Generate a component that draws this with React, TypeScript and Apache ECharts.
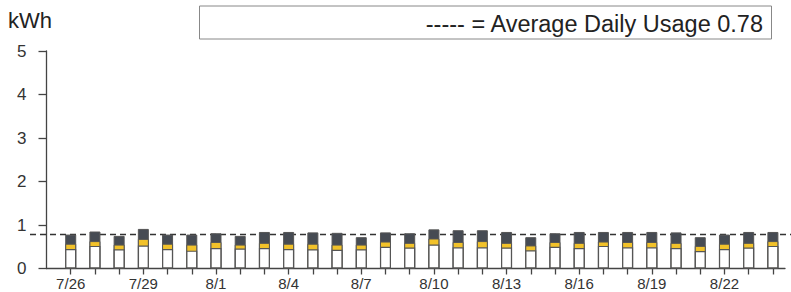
import React, { useEffect, useRef } from "react";
import * as echarts from "echarts";

const days = ["7/26","7/27","7/28","7/29","7/30","7/31","8/1","8/2","8/3","8/4","8/5","8/6","8/7","8/8","8/9","8/10","8/11","8/12","8/13","8/14","8/15","8/16","8/17","8/18","8/19","8/20","8/21","8/22","8/23","8/24"];
const shownLabels = ["7/26","7/29","8/1","8/4","8/7","8/10","8/13","8/16","8/19","8/22"];
const baseUsage = [0.45,0.52,0.44,0.53,0.45,0.41,0.47,0.46,0.47,0.45,0.44,0.43,0.44,0.50,0.48,0.55,0.49,0.49,0.48,0.42,0.50,0.47,0.52,0.49,0.49,0.47,0.40,0.45,0.48,0.52];
const midUsage = [0.12,0.11,0.11,0.15,0.12,0.14,0.14,0.09,0.12,0.12,0.13,0.12,0.11,0.12,0.11,0.14,0.12,0.14,0.11,0.11,0.11,0.12,0.10,0.12,0.12,0.12,0.12,0.12,0.11,0.11];
const peakUsage = [0.21,0.22,0.20,0.23,0.21,0.23,0.20,0.20,0.25,0.27,0.26,0.27,0.17,0.21,0.22,0.21,0.27,0.25,0.25,0.19,0.20,0.25,0.22,0.23,0.23,0.24,0.20,0.21,0.25,0.21];
const yTicks = [0, 1, 2, 3, 4, 5];
const averageUsage = 0.78;

export default function App() {
  const ref = useRef<HTMLDivElement>(null);
  useEffect(() => {
    if (!ref.current) return;
    const chart = echarts.init(ref.current, undefined, { renderer: "svg" });
    const font = "'Liberation Sans', Arial, sans-serif";
    const midTop = baseUsage.map((v, i) => v + midUsage[i]);
    const total = midTop.map((v, i) => v + peakUsage[i]);
    const mk = (arr: number[]) => arr.map((v, i) => [i + 1, +v.toFixed(3)]);
    const common = { type: "bar", barWidth: 11, barGap: "-100%" };
    chart.setOption({
      animation: false,
      backgroundColor: "#ffffff",
      grid: { left: 46.5, right: 6, top: 51, bottom: 23.5 },
      xAxis: {
        type: "value",
        min: 0,
        max: 30.5,
        interval: 1,
        splitLine: { show: false },
        axisLine: { show: true, lineStyle: { color: "#444", width: 1.3 } },
        axisTick: { show: true, length: 6, lineStyle: { color: "#444", width: 1.3 } },
        axisLabel: {
          show: true,
          showMaxLabel: false,
          showMinLabel: false,
          margin: 7,
          fontFamily: font,
          fontSize: 15,
          color: "#333",
          formatter: (v: number) => {
            const d = days[Math.round(v) - 1];
            return d && shownLabels.includes(d) ? d : "";
          },
        },
      },
      yAxis: {
        type: "value",
        min: 0,
        max: 5,
        interval: 1,
        splitLine: { show: false },
        axisLine: { show: true, lineStyle: { color: "#444", width: 1.3 } },
        axisTick: { show: true, length: 8, lineStyle: { color: "#444", width: 1.3 } },
        axisLabel: {
          margin: 20,
          fontFamily: font,
          fontSize: 17,
          color: "#333",
          formatter: (v: number) => (yTicks.includes(v) ? String(v) : ""),
        },
      },
      series: [
        { ...common, name: "peak", z: 3, data: mk(total), itemStyle: { color: "#464b53", borderColor: "#555", borderWidth: 1 } },
        { ...common, name: "mid", z: 4, data: mk(midTop), itemStyle: { color: "#f2c22a", borderColor: "#555", borderWidth: 1 } },
        { ...common, name: "base", z: 5, data: mk(baseUsage), itemStyle: { color: "#ffffff", borderColor: "#555", borderWidth: 1.2 } },
      ],
      graphic: [
        { type: "text", id: "kwh", left: 8, top: 9, style: { text: "kWh", fontFamily: font, fontSize: 22, fill: "#222" } },
        { type: "rect", id: "box", shape: { x: 199.5, y: 6, width: 572, height: 33 }, style: { fill: "#fff", stroke: "#888", lineWidth: 1 } },
        { type: "text", id: "legtext", x: 763, y: 24, style: { text: "----- = Average Daily Usage 0.78", fontFamily: font, fontSize: 23.5, fill: "#222", align: "right", verticalAlign: "middle" } },
      ],
    });
    const py = chart.convertToPixel({ yAxisIndex: 0 }, averageUsage) as number;
    chart.setOption({
      graphic: [
        { type: "line", id: "avg", z: 1, shape: { x1: 30, y1: py, x2: 791, y2: py }, style: { stroke: "#333", lineWidth: 1.5, lineDash: [6, 4] } },
      ],
    });
    return () => chart.dispose();
  }, []);
  return <div ref={ref} style={{ width: 791, height: 292, position: "absolute", left: 0, top: 0 }} />;
}
